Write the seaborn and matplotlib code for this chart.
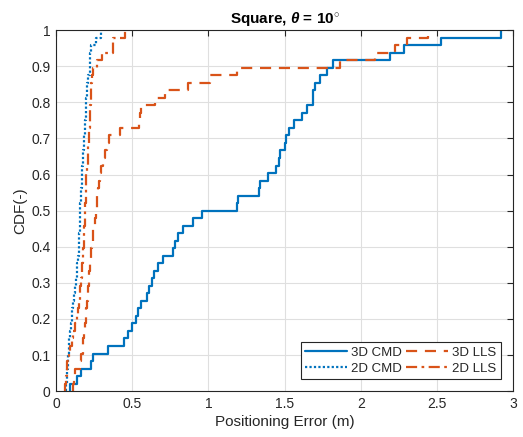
import numpy as np
import pandas as pd
import matplotlib
matplotlib.use("Agg")
import matplotlib.pyplot as plt
import seaborn as sns

# Positioning errors (m), 48 samples per method
cmd_3d = [0.092, 0.135, 0.164, 0.228, 0.240, 0.340, 0.447, 0.475, 0.497, 0.525,
          0.541, 0.558, 0.595, 0.610, 0.628, 0.643, 0.672, 0.700, 0.770, 0.780,
          0.799, 0.836, 0.900, 0.957, 1.185, 1.195, 1.330, 1.340, 1.390, 1.445,
          1.466, 1.470, 1.500, 1.510, 1.532, 1.565, 1.613, 1.646, 1.685, 1.690,
          1.700, 1.733, 1.780, 1.816, 2.190, 2.285, 2.530, 2.920]
lls_3d = [0.115, 0.120, 0.125, 0.155, 0.165, 0.175, 0.180, 0.185, 0.190, 0.195,
          0.200, 0.203, 0.207, 0.212, 0.216, 0.220, 0.224, 0.228, 0.232, 0.236,
          0.240, 0.245, 0.255, 0.262, 0.268, 0.272, 0.276, 0.282, 0.290, 0.298,
          0.310, 0.322, 0.335, 0.350, 0.420, 0.545, 0.553, 0.560, 0.650, 0.716,
          0.867, 1.010, 1.190, 1.865, 2.095, 2.226, 2.305, 2.445]
cmd_2d = [0.066, 0.070, 0.074, 0.078, 0.082, 0.085, 0.088, 0.092, 0.097, 0.102,
          0.107, 0.112, 0.118, 0.124, 0.130, 0.136, 0.140, 0.144, 0.148, 0.151,
          0.153, 0.155, 0.157, 0.159, 0.161, 0.164, 0.166, 0.168, 0.171, 0.174,
          0.177, 0.180, 0.183, 0.186, 0.189, 0.192, 0.195, 0.197, 0.199, 0.201,
          0.203, 0.210, 0.222, 0.223, 0.225, 0.228, 0.262, 0.295]
lls_2d = [0.060, 0.065, 0.070, 0.075, 0.085, 0.095, 0.105, 0.115, 0.125, 0.135,
          0.142, 0.148, 0.155, 0.160, 0.164, 0.168, 0.172, 0.176, 0.179, 0.182,
          0.184, 0.186, 0.188, 0.190, 0.192, 0.194, 0.196, 0.198, 0.200, 0.204,
          0.207, 0.210, 0.213, 0.217, 0.220, 0.222, 0.224, 0.226, 0.228, 0.230,
          0.232, 0.235, 0.240, 0.270, 0.305, 0.372, 0.377, 0.455]

series_names = ["3D CMD", "2D CMD", "3D LLS", "2D LLS"]
series_data = [cmd_3d, cmd_2d, lls_3d, lls_2d]

x_ticks = [0, 0.5, 1, 1.5, 2, 2.5, 3]
x_tick_labels = ["0", "0.5", "1", "1.5", "2", "2.5", "3"]
y_ticks = [0, 0.1, 0.2, 0.3, 0.4, 0.5, 0.6, 0.7, 0.8, 0.9, 1]
y_tick_labels = ["0", "0.1", "0.2", "0.3", "0.4", "0.5", "0.6", "0.7", "0.8", "0.9", "1"]

df = pd.DataFrame({
    "error": np.concatenate(series_data),
    "method": np.repeat(series_names, [len(s) for s in series_data]),
})

sns.set_style("white")
plt.rcParams["font.family"] = ["Liberation Sans", "DejaVu Sans"]
plt.rcParams["mathtext.fontset"] = "custom"
plt.rcParams["mathtext.it"] = "Liberation Sans:italic:bold"
plt.rcParams["mathtext.rm"] = "Liberation Sans:bold"

blue = "#0072BD"
orange = "#D95319"
styles = {
    "3D CMD": dict(color=blue, linestyle="-"),
    "2D CMD": dict(color=blue, linestyle=(0, (1, 1))),
    "3D LLS": dict(color=orange, linestyle=(0, (5, 3.5))),
    "2D LLS": dict(color=orange, linestyle=(0, (5, 2, 1.2, 2))),
}

fig, ax = plt.subplots(figsize=(5.23, 4.37), dpi=100)
fig.subplots_adjust(left=0.107, right=0.981, top=0.931, bottom=0.105)

for name in series_names:
    sns.ecdfplot(data=df[df["method"] == name], x="error", ax=ax,
                 label=name, linewidth=1.6, **styles[name])

ax.set_xlim(0, 3)
ax.set_ylim(0, 1)
ax.set_xticks(x_ticks)
ax.set_xticklabels(x_tick_labels)
ax.set_yticks(y_ticks)
ax.set_yticklabels(y_tick_labels)
ax.grid(True, color="#dfdfdf", linewidth=0.8)
ax.set_axisbelow(True)
ax.tick_params(direction="in", length=4, width=0.8, top=True, right=True,
               labelsize=10, colors="#262626", pad=4)
for sp in ax.spines.values():
    sp.set_color("#262626")
    sp.set_linewidth(0.8)

ax.set_xlabel("Positioning Error (m)", fontsize=11, color="#262626", labelpad=3)
ax.set_ylabel("CDF(-)", fontsize=11, color="#262626", labelpad=3)
ax.set_title(r"Square, $\theta$ = 10$^{\circ}$", fontsize=11, fontweight="bold",
             color="black", pad=5)

leg = ax.legend(loc="lower right", ncol=2, prop={"size": 9.5}, frameon=True,
                fancybox=False, edgecolor="#262626", framealpha=1,
                handlelength=3.2, columnspacing=0.3, handletextpad=0.3,
                labelspacing=0.25, borderpad=0.35, borderaxespad=0.9)
leg.get_frame().set_linewidth(0.8)

fig.savefig("out.png", dpi=100)
